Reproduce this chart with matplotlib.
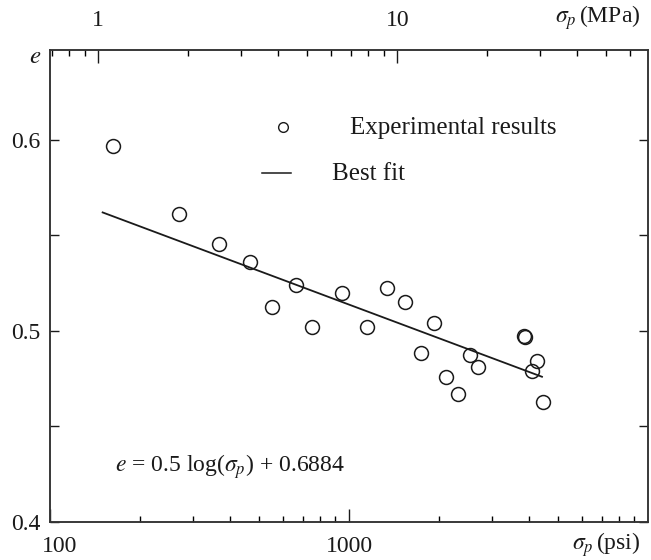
import numpy as np
import matplotlib
matplotlib.use('Agg')
import matplotlib.pyplot as plt
import matplotlib.transforms as mtransforms
from matplotlib.ticker import FixedLocator, NullFormatter

plt.rcParams['font.family'] = ['Liberation Serif', 'DejaVu Serif']
plt.rcParams['mathtext.fontset'] = 'stix'

# experimental points (psi, void ratio)
sigma_psi = [162, 270, 367, 466, 553, 665, 752, 948, 1149, 1340, 1540, 1741,
             1924, 2111, 2314, 2539, 2700, 3860, 3890, 4093, 4254, 4456]
void_e = [0.597, 0.561, 0.5455, 0.536, 0.5126, 0.524, 0.502, 0.520, 0.502,
          0.5225, 0.515, 0.4885, 0.504, 0.476, 0.467, 0.4874, 0.481, 0.4972,
          0.4966, 0.479, 0.4843, 0.4628]

# best fit line end points
fit_psi = [150, 4420]
fit_e = [0.562, 0.476]

psi_per_mpa = 145.04
bottom_ticks = [100, 1000]
top_ticks = [1, 10]
y_ticks = [0.4, 0.45, 0.5, 0.55, 0.6]
y_labels = ['0.4', '', '0.5', '', '0.6']

ink = '#1a1a1a'

fig = plt.figure(figsize=(6.51, 5.6), dpi=100)
ax = fig.add_axes([50/651, 38/560, 598/651, 472/560])

ax.plot(sigma_psi, void_e, 'o', mfc='none', mec=ink, ms=10, mew=1.1)
ax.plot(fit_psi, fit_e, '-', color=ink, lw=1.3)

ax.set_xscale('log')
ax.set_xlim(100, 10000)
ax.set_ylim(0.4, 0.647)

ax.xaxis.set_major_locator(FixedLocator(bottom_ticks))
ax.set_xticklabels([str(t) for t in bottom_ticks])
minor_psi = [m * d for d in (100, 1000) for m in range(2, 10)]
ax.xaxis.set_minor_locator(FixedLocator(minor_psi))
ax.xaxis.set_minor_formatter(NullFormatter())
ax.set_yticks(y_ticks)
ax.set_yticklabels(y_labels)

ax.tick_params(axis='x', which='major', direction='in', length=9.5, width=1,
               top=False, labelsize=17, pad=10, colors=ink)
ax.tick_params(axis='x', which='minor', direction='in', length=4.5, width=1,
               top=False)
ax.tick_params(axis='y', which='major', direction='in', length=6.5, width=1,
               right=True, labelsize=17, pad=7, colors=ink)

# the "100" label sits a bit right of its tick in the original
lbl = ax.get_xticklabels()[0]
lbl.set_transform(lbl.get_transform() +
                  mtransforms.ScaledTranslation(10/100, 0, fig.dpi_scale_trans))

# top axis in MPa
ax2 = ax.twiny()
ax2.set_xscale('log')
ax2.set_xlim(100/psi_per_mpa, 10000/psi_per_mpa)
ax2.xaxis.set_major_locator(FixedLocator(top_ticks))
ax2.set_xticklabels([str(t) for t in top_ticks])
minor_mpa = [0.7, 0.8, 0.9] + [m for m in range(2, 10)] + [20, 30, 40, 50, 60]
ax2.xaxis.set_minor_locator(FixedLocator(minor_mpa))
ax2.xaxis.set_minor_formatter(NullFormatter())
ax2.tick_params(axis='x', which='major', direction='in', length=9.5, width=1,
                labelsize=17, pad=14, colors=ink)
ax2.tick_params(axis='x', which='minor', direction='in', length=4.5, width=1)

for a in (ax, ax2):
    for s in a.spines.values():
        s.set_color('#333333')
        s.set_linewidth(1.1)

# axis titles placed like the original
fig.text(35/651, 1 - 57/560, r'$e$', fontsize=18, color=ink, ha='center', va='center')
fig.text(640/651, 1 - 545/560, r'$\sigma_p\,$(psi)', fontsize=17, color=ink,
         ha='right', va='center')
fig.text(640/651, 1 - 18/560, r'$\sigma_p\,$(MPa)', fontsize=17, color=ink,
         ha='right', va='center')

# hand made legend
ax.plot([(283-50)/598], [(522-127)/472], 'o', mfc='none', mec=ink, ms=7,
        mew=1.0, transform=ax.transAxes, clip_on=False)
ax.text((350-50)/598, (522-128)/472, 'Experimental results', fontsize=18,
        color=ink, va='center', transform=ax.transAxes)
ax.plot([(262-50)/598, (291-50)/598], [(522-173)/472]*2, '-', color=ink,
        lw=1.1, transform=ax.transAxes)
ax.text((332-50)/598, (522-174)/472, 'Best fit', fontsize=18, color=ink,
        va='center', transform=ax.transAxes)

ax.text((115-50)/598, (522-467)/472, r'$e$ = 0.5 log($\sigma_p$) + 0.6884',
        fontsize=17, color=ink, va='center', transform=ax.transAxes)

fig.savefig('out.png', dpi=100)
